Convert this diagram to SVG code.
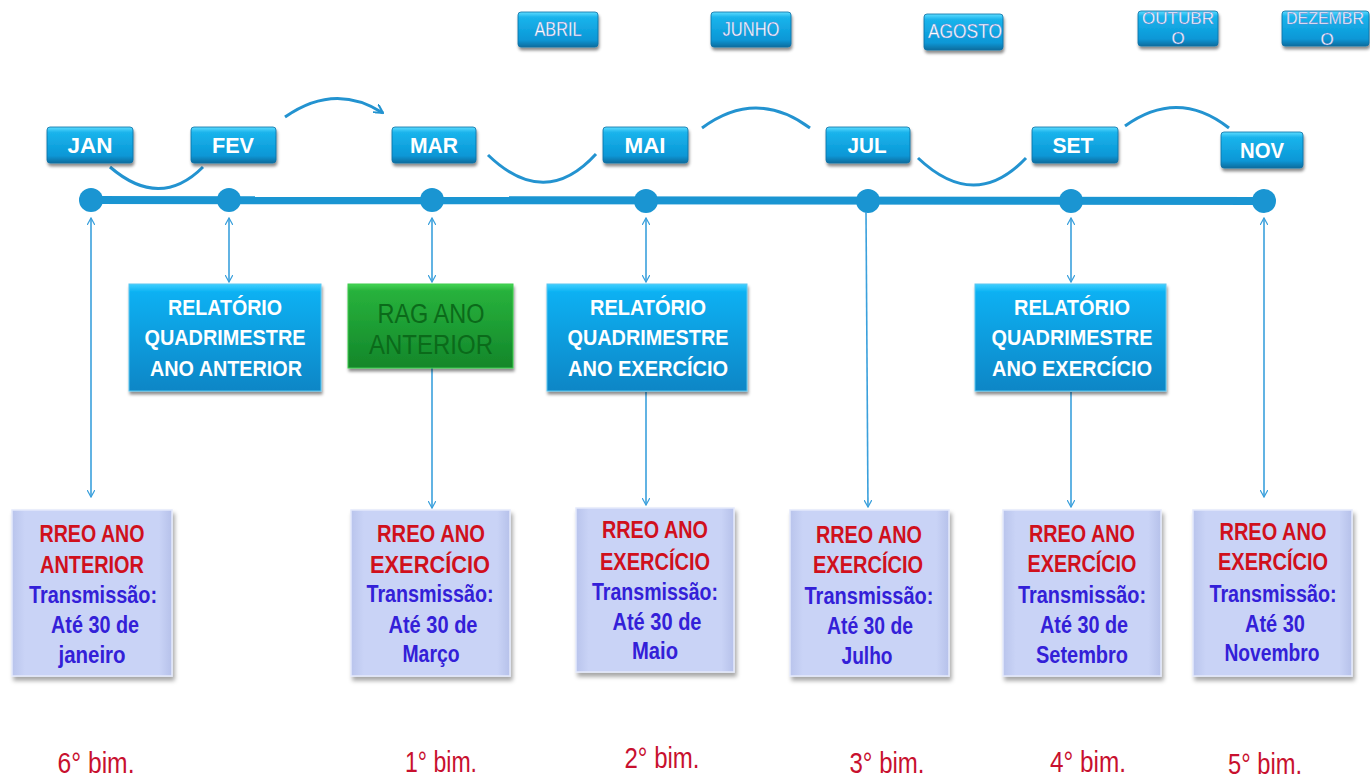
<svg xmlns="http://www.w3.org/2000/svg" width="1370" height="778" viewBox="0 0 1370 778">
<style>
text{font-family:"Liberation Sans",Arial,sans-serif;text-anchor:middle;}
.mon{fill:#fff;font-weight:bold;font-size:22px;}
.top{fill:#fff;font-size:21px;stroke:#6a7fd0;stroke-width:0.4;}
.top2{fill:#fff;font-size:17px;stroke:#6a7fd0;stroke-width:0.4;}
.rel{fill:#fff;font-weight:bold;font-size:22px;}
.rag{fill:#0b6a1a;font-size:27px;}
.r{fill:#d0101c;font-weight:bold;font-size:24px;}
.b{fill:#3320d8;font-weight:bold;font-size:23px;}
.bim{fill:#c8102e;font-size:29px;}
.arc{fill:none;stroke:#2393d0;stroke-width:3;}
.con{fill:none;stroke:#3aa0dc;stroke-width:1.6;}
.mbox{fill:url(#gMon);stroke:#0b6fa3;stroke-width:0.8;filter:url(#sh);}
.lav{fill:url(#gLav);stroke:#e4e9fb;stroke-width:1.5;filter:url(#sh2);}
</style>
<defs>
<linearGradient id="gMon" x1="0" y1="0" x2="0" y2="1">
<stop offset="0" stop-color="#5fdcff"/><stop offset="0.15" stop-color="#1ab4ec"/><stop offset="0.8" stop-color="#0a97d6"/><stop offset="1" stop-color="#0a6c9e"/>
</linearGradient>
<linearGradient id="gRel" x1="0" y1="0" x2="0" y2="1">
<stop offset="0" stop-color="#3fd0ff"/><stop offset="0.08" stop-color="#0ab0f2"/><stop offset="1" stop-color="#0a86c6"/>
</linearGradient>
<linearGradient id="gRag" x1="0" y1="0" x2="0" y2="1">
<stop offset="0" stop-color="#44d555"/><stop offset="0.08" stop-color="#28b23c"/><stop offset="1" stop-color="#12862a"/>
</linearGradient>
<linearGradient id="gLav" x1="0" y1="0" x2="1" y2="0">
<stop offset="0" stop-color="#b9c4ec"/><stop offset="0.08" stop-color="#c9d3f6"/><stop offset="0.92" stop-color="#c9d3f6"/><stop offset="1" stop-color="#b6c1ea"/>
</linearGradient>
<filter id="sh" x="-10%" y="-20%" width="130%" height="160%"><feDropShadow dx="1" dy="3" stdDeviation="1.5" flood-color="#000" flood-opacity="0.45"/></filter>
<filter id="sh2" x="-10%" y="-10%" width="130%" height="130%"><feDropShadow dx="2" dy="4" stdDeviation="2" flood-color="#000" flood-opacity="0.35"/></filter>
<marker id="ah" viewBox="0 0 10 10" refX="9" refY="5" markerWidth="8" markerHeight="8" markerUnits="userSpaceOnUse" orient="auto-start-reverse"><path d="M0,0 L9,5 L0,10" fill="none" stroke="#3aa0dc" stroke-width="1.6"/></marker>
<marker id="ah2" viewBox="0 0 10 10" refX="9" refY="5" markerWidth="10" markerHeight="10" markerUnits="userSpaceOnUse" orient="auto"><path d="M0,0 L9,5 L0,10" fill="none" stroke="#2393d0" stroke-width="2"/></marker>
</defs>

<g id="timeline">
<line x1="91" y1="200" x2="1264" y2="201" stroke="#1a95d2" stroke-width="8"/>
<circle cx="91" cy="200" r="12" fill="#1a95d2"/>
<circle cx="229" cy="200" r="12" fill="#1a95d2"/>
<circle cx="432" cy="200" r="12" fill="#1a95d2"/>
<circle cx="646" cy="201" r="12" fill="#1a95d2"/>
<circle cx="868" cy="201" r="12" fill="#1a95d2"/>
<circle cx="1071" cy="201" r="12" fill="#1a95d2"/>
<circle cx="1264" cy="201" r="12" fill="#1a95d2"/>
</g>

<g id="connectors">
<path class="arc" d="M110,167 Q160,210 203,167"/>
<path class="arc" d="M285,117 Q335,82 383,113" marker-end="url(#ah2)"/>
<path class="arc" d="M488,155 Q545,210 596,154"/>
<path class="arc" d="M702,128 Q756,88 810,128"/>
<path class="arc" d="M918,158 Q975,212 1026,158"/>
<path class="arc" d="M1125,126 Q1178,88 1229,128"/>
<line class="con" x1="91" y1="218" x2="91" y2="497" marker-start="url(#ah)" marker-end="url(#ah)"/>
<line class="con" x1="229" y1="218" x2="229" y2="282" marker-start="url(#ah)" marker-end="url(#ah)"/>
<line class="con" x1="432" y1="218" x2="432" y2="282" marker-start="url(#ah)" marker-end="url(#ah)"/>
<line class="con" x1="432" y1="368" x2="432" y2="508" marker-end="url(#ah)"/>
<line class="con" x1="646" y1="218" x2="646" y2="282" marker-start="url(#ah)" marker-end="url(#ah)"/>
<line class="con" x1="646" y1="392" x2="646" y2="505" marker-end="url(#ah)"/>
<line class="con" x1="866" y1="212" x2="868" y2="507" marker-end="url(#ah)"/>
<line class="con" x1="1071" y1="218" x2="1071" y2="282" marker-start="url(#ah)" marker-end="url(#ah)"/>
<line class="con" x1="1071" y1="392" x2="1071" y2="507" marker-end="url(#ah)"/>
<line class="con" x1="1264" y1="218" x2="1264" y2="497" marker-start="url(#ah)" marker-end="url(#ah)"/>
</g>

<g id="m-abril"><rect class="mbox" x="518" y="12" width="80" height="35" rx="3"/><text class="top" x="558" y="36" textLength="47" lengthAdjust="spacingAndGlyphs">ABRIL</text></g>
<g id="m-junho"><rect class="mbox" x="711" y="12" width="80" height="35" rx="3"/><text class="top" x="751" y="36" textLength="57" lengthAdjust="spacingAndGlyphs">JUNHO</text></g>
<g id="m-agosto"><rect class="mbox" x="924" y="14" width="79" height="36" rx="3"/><text class="top" x="965" y="38" textLength="74" lengthAdjust="spacingAndGlyphs">AGOSTO</text></g>
<g id="m-outubro"><rect class="mbox" x="1138" y="11" width="80" height="35" rx="3"/><text class="top2" x="1178" y="24" textLength="72" lengthAdjust="spacingAndGlyphs">OUTUBR</text><text class="top2" x="1178" y="44">O</text></g>
<g id="m-dezembro"><rect class="mbox" x="1282" y="11" width="87" height="35" rx="3"/><text class="top2" x="1325" y="24" textLength="78" lengthAdjust="spacingAndGlyphs">DEZEMBR</text><text class="top2" x="1327" y="45">O</text></g>

<g id="m-jan"><rect class="mbox" x="47" y="127" width="86" height="36" rx="3"/><text class="mon" x="90" y="153" textLength="45" lengthAdjust="spacingAndGlyphs">JAN</text></g>
<g id="m-fev"><rect class="mbox" x="191" y="127" width="85" height="36" rx="3"/><text class="mon" x="233" y="153" textLength="42" lengthAdjust="spacingAndGlyphs">FEV</text></g>
<g id="m-mar"><rect class="mbox" x="392" y="127" width="84" height="36" rx="3"/><text class="mon" x="434" y="153" textLength="48" lengthAdjust="spacingAndGlyphs">MAR</text></g>
<g id="m-mai"><rect class="mbox" x="603" y="127" width="85" height="36" rx="3"/><text class="mon" x="645" y="153" textLength="41" lengthAdjust="spacingAndGlyphs">MAI</text></g>
<g id="m-jul"><rect class="mbox" x="826" y="127" width="84" height="36" rx="3"/><text class="mon" x="867" y="153" textLength="39" lengthAdjust="spacingAndGlyphs">JUL</text></g>
<g id="m-set"><rect class="mbox" x="1032" y="127" width="86" height="36" rx="3"/><text class="mon" x="1073" y="153" textLength="41" lengthAdjust="spacingAndGlyphs">SET</text></g>
<g id="m-nov"><rect class="mbox" x="1221" y="132" width="82" height="36" rx="3"/><text class="mon" x="1262" y="158" textLength="44" lengthAdjust="spacingAndGlyphs">NOV</text></g>

<g id="rel-ano-anterior"><rect x="129" y="284" width="192" height="107" fill="url(#gRel)" stroke="#5cc6ef" stroke-width="1" filter="url(#sh)"/>
<text class="rel" x="225" y="315" textLength="114" lengthAdjust="spacingAndGlyphs">RELATÓRIO</text>
<text class="rel" x="225" y="345" textLength="161" lengthAdjust="spacingAndGlyphs">QUADRIMESTRE</text>
<text class="rel" x="226" y="376" textLength="152" lengthAdjust="spacingAndGlyphs">ANO ANTERIOR</text></g>
<g id="rag"><rect x="348" y="284" width="165" height="84" fill="url(#gRag)" stroke="#3ccc4c" stroke-width="1" filter="url(#sh)"/>
<text class="rag" x="431" y="323" textLength="107" lengthAdjust="spacingAndGlyphs">RAG ANO</text>
<text class="rag" x="431" y="354" textLength="124" lengthAdjust="spacingAndGlyphs">ANTERIOR</text></g>
<g id="rel-mai"><rect x="547" y="284" width="200" height="107" fill="url(#gRel)" stroke="#5cc6ef" stroke-width="1" filter="url(#sh)"/>
<text class="rel" x="648" y="315" textLength="116" lengthAdjust="spacingAndGlyphs">RELATÓRIO</text>
<text class="rel" x="648" y="345" textLength="161" lengthAdjust="spacingAndGlyphs">QUADRIMESTRE</text>
<text class="rel" x="648" y="376" textLength="160" lengthAdjust="spacingAndGlyphs">ANO EXERCÍCIO</text></g>
<g id="rel-set"><rect x="975" y="284" width="191" height="107" fill="url(#gRel)" stroke="#5cc6ef" stroke-width="1" filter="url(#sh)"/>
<text class="rel" x="1072" y="315" textLength="116" lengthAdjust="spacingAndGlyphs">RELATÓRIO</text>
<text class="rel" x="1072" y="345" textLength="161" lengthAdjust="spacingAndGlyphs">QUADRIMESTRE</text>
<text class="rel" x="1072" y="376" textLength="160" lengthAdjust="spacingAndGlyphs">ANO EXERCÍCIO</text></g>

<g id="rreo-jan"><rect class="lav" x="12" y="510" width="160" height="166"/>
<text class="r" x="92" y="542" textLength="105" lengthAdjust="spacingAndGlyphs">RREO ANO</text>
<text class="r" x="92" y="573" textLength="104" lengthAdjust="spacingAndGlyphs">ANTERIOR</text>
<text class="b" x="93" y="603" textLength="128" lengthAdjust="spacingAndGlyphs">Transmissão:</text>
<text class="b" x="95" y="633" textLength="88" lengthAdjust="spacingAndGlyphs">Até 30 de</text>
<text class="b" x="92" y="663" textLength="67" lengthAdjust="spacingAndGlyphs">janeiro</text></g>
<g id="rreo-mar"><rect class="lav" x="351" y="510" width="159" height="166"/>
<text class="r" x="431" y="542" textLength="108" lengthAdjust="spacingAndGlyphs">RREO ANO</text>
<text class="r" x="430" y="573" textLength="120" lengthAdjust="spacingAndGlyphs">EXERCÍCIO</text>
<text class="b" x="430" y="602" textLength="127" lengthAdjust="spacingAndGlyphs">Transmissão:</text>
<text class="b" x="433" y="633" textLength="89" lengthAdjust="spacingAndGlyphs">Até 30 de</text>
<text class="b" x="431" y="662" textLength="57" lengthAdjust="spacingAndGlyphs">Março</text></g>
<g id="rreo-mai"><rect class="lav" x="576" y="508" width="158" height="164"/>
<text class="r" x="655" y="538" textLength="106" lengthAdjust="spacingAndGlyphs">RREO ANO</text>
<text class="r" x="655" y="570" textLength="110" lengthAdjust="spacingAndGlyphs">EXERCÍCIO</text>
<text class="b" x="655" y="600" textLength="126" lengthAdjust="spacingAndGlyphs">Transmissão:</text>
<text class="b" x="657" y="630" textLength="89" lengthAdjust="spacingAndGlyphs">Até 30 de</text>
<text class="b" x="655" y="659" textLength="46" lengthAdjust="spacingAndGlyphs">Maio</text></g>
<g id="rreo-jul"><rect class="lav" x="790" y="510" width="159" height="166"/>
<text class="r" x="869" y="543" textLength="106" lengthAdjust="spacingAndGlyphs">RREO ANO</text>
<text class="r" x="868" y="573" textLength="110" lengthAdjust="spacingAndGlyphs">EXERCÍCIO</text>
<text class="b" x="869" y="604" textLength="129" lengthAdjust="spacingAndGlyphs">Transmissão:</text>
<text class="b" x="870" y="634" textLength="86" lengthAdjust="spacingAndGlyphs">Até 30 de</text>
<text class="b" x="867" y="664" textLength="51" lengthAdjust="spacingAndGlyphs">Julho</text></g>
<g id="rreo-set"><rect class="lav" x="1003" y="510" width="158" height="166"/>
<text class="r" x="1082" y="542" textLength="106" lengthAdjust="spacingAndGlyphs">RREO ANO</text>
<text class="r" x="1082" y="572" textLength="109" lengthAdjust="spacingAndGlyphs">EXERCÍCIO</text>
<text class="b" x="1082" y="603" textLength="128" lengthAdjust="spacingAndGlyphs">Transmissão:</text>
<text class="b" x="1084" y="633" textLength="88" lengthAdjust="spacingAndGlyphs">Até 30 de</text>
<text class="b" x="1082" y="663" textLength="92" lengthAdjust="spacingAndGlyphs">Setembro</text></g>
<g id="rreo-nov"><rect class="lav" x="1193" y="510" width="159" height="166"/>
<text class="r" x="1273" y="540" textLength="107" lengthAdjust="spacingAndGlyphs">RREO ANO</text>
<text class="r" x="1273" y="570" textLength="110" lengthAdjust="spacingAndGlyphs">EXERCÍCIO</text>
<text class="b" x="1273" y="602" textLength="127" lengthAdjust="spacingAndGlyphs">Transmissão:</text>
<text class="b" x="1275" y="632" textLength="60" lengthAdjust="spacingAndGlyphs">Até 30</text>
<text class="b" x="1272" y="661" textLength="95" lengthAdjust="spacingAndGlyphs">Novembro</text></g>

<g id="bims">
<text class="bim" x="96" y="773" textLength="77" lengthAdjust="spacingAndGlyphs">6° bim.</text>
<text class="bim" x="441" y="772" textLength="72" lengthAdjust="spacingAndGlyphs">1° bim.</text>
<text class="bim" x="662" y="768" textLength="75" lengthAdjust="spacingAndGlyphs">2° bim.</text>
<text class="bim" x="887" y="773" textLength="75" lengthAdjust="spacingAndGlyphs">3° bim.</text>
<text class="bim" x="1088" y="772" textLength="76" lengthAdjust="spacingAndGlyphs">4° bim.</text>
<text class="bim" x="1265" y="774" textLength="74" lengthAdjust="spacingAndGlyphs">5° bim.</text>
</g>
</svg>
